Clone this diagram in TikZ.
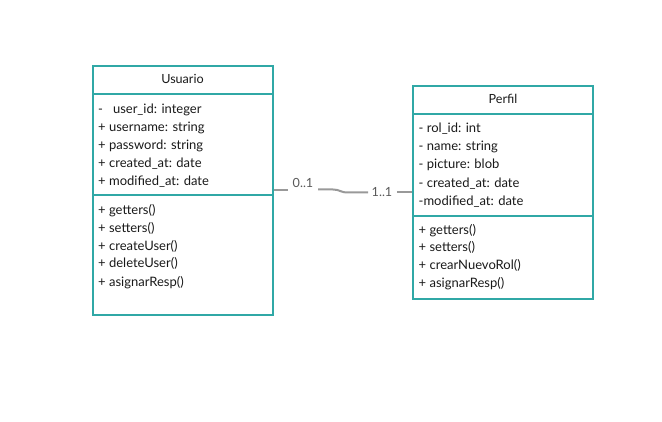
\documentclass[tikz,border=0pt]{standalone}
\usepackage{fontspec}
\setmainfont{Lato}
\begin{document}
\begin{tikzpicture}[x=1pt,y=1pt,
  umlbox/.style={draw=tealc,line width=2pt,rectangle,inner sep=0pt},
  divider/.style={draw=tealc,line width=2pt},
  row/.style={anchor=mid west,inner sep=0pt,font=\fontsize{13}{15}\selectfont,text=black!90},
  title/.style={anchor=mid,inner sep=0pt,font=\fontsize{12.6}{14}\selectfont,text=black!90},
  conn/.style={draw=gray!80,line width=2pt},
  mult/.style={inner sep=0pt,font=\fontsize{12.6}{14}\selectfont,text=black!65}]
\definecolor{tealc}{RGB}{48,168,166}
\useasboundingbox (0,0) rectangle (662,421);
% Usuario
\node[umlbox,minimum width=180,minimum height=249] (usuario) at (182.5,{421-190.5}) {};
\draw[divider] (92.5,{421-94.5}) -- (272.5,{421-94.5});
\draw[divider] (92.5,{421-195.5}) -- (272.5,{421-195.5});
\node[title] (ut) at (182.5,{421-81}) {Usuario};
\node[row] (u1) at (98,{421-111}) {-\ \ \ user\_id: integer};
\node[row] (u2) at (98,{421-129}) {+ username: string};
\node[row] (u3) at (98,{421-147}) {+ password: string};
\node[row] (u4) at (98,{421-164.5}) {+ created\_at: date};
\node[row] (u5) at (98,{421-183}) {+ modified\_at: date};
\node[row] (u6) at (98,{421-212}) {+ getters()};
\node[row] (u7) at (98,{421-229.5}) {+ setters()};
\node[row] (u8) at (98,{421-247.5}) {+ createUser()};
\node[row] (u9) at (98,{421-265}) {+ deleteUser()};
\node[row] (u10) at (98,{421-283.5}) {+ asignarResp()};
% Perfil
\node[umlbox,minimum width=180,minimum height=213] (perfil) at (503,{421-192.5}) {};
\draw[divider] (413,{421-114.5}) -- (593,{421-114.5});
\draw[divider] (413,{421-216}) -- (593,{421-216});
\node[title] (pt) at (503,{421-101}) {Perfil};
\node[row] (p1) at (418.5,{421-130}) {- rol\_id: int};
\node[row] (p2) at (418.5,{421-148}) {- name: string};
\node[row] (p3) at (418.5,{421-166}) {- picture: blob};
\node[row] (p4) at (418.5,{421-184.5}) {- created\_at: date};
\node[row] (p5) at (418.5,{421-203}) {-modified\_at: date};
\node[row] (p6) at (418.5,{421-231.5}) {+ getters()};
\node[row] (p7) at (418.5,{421-249}) {+ setters()};
\node[row] (p8) at (418.5,{421-267}) {+ crearNuevoRol()};
\node[row] (p9) at (418.5,{421-285}) {+ asignarResp()};
% connector
\coordinate (ua) at (usuario.east |- 0,{421-190.5});
\coordinate (pa) at (perfil.west |- 0,{421-192.5});
\node[mult] (m1) at (303,{421-183}) {0..1};
\node[mult] (m2) at (382,{421-192.5}) {1..1};
\draw[conn] (ua) -- (288,{421-190.5});
\draw[conn] (318,{421-189.5}) -- (333,{421-189.5}) .. controls (340,{421-189.5}) and (340,{421-192.5}) .. (348,{421-192.5}) -- (368,{421-192.5});
\draw[conn] (397,{421-192.5}) -- (pa);
\end{tikzpicture}
\end{document}
